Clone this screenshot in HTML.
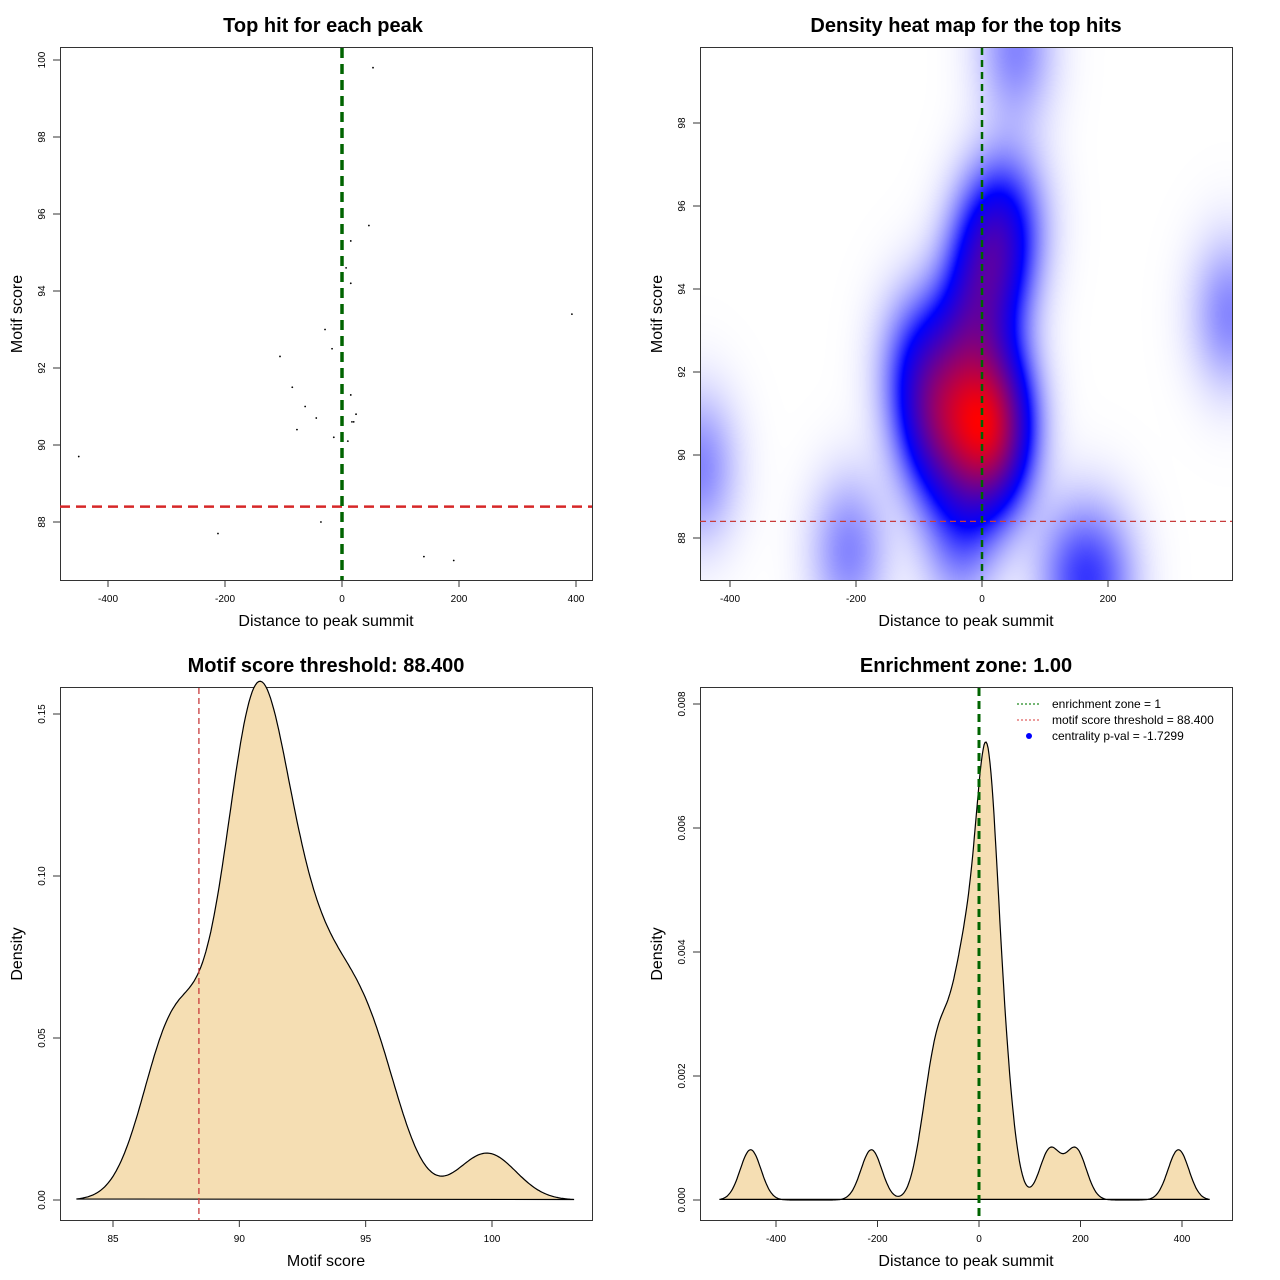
<!DOCTYPE html>
<html><head><meta charset="utf-8"><style>
body{margin:0;background:#fff;width:1280px;height:1280px;overflow:hidden;font-family:"Liberation Sans",sans-serif}
#wrap{position:relative;width:1280px;height:1280px}
canvas{position:absolute}
svg{position:absolute;left:0;top:0}
</style></head><body>
<div id="wrap">
<canvas id="heat" width="532" height="533" style="left:700px;top:47px"></canvas>
<svg id="s" width="1280" height="1280"></svg>
</div>
<script>
// Data: peak hits (distance to summit, motif score)
const distances = [53,46,15,7,15,393,-29,-17,-106,-85,15,-63,24,-44,17,20,-77,-14,10,-450,-36,-212,140,191];
const scores = [99.8,95.7,95.3,94.6,94.2,93.4,93.0,92.5,92.3,91.5,91.3,91.0,90.8,90.7,90.6,90.6,90.4,90.2,90.1,89.7,88.0,87.7,87.1,87.0];
const threshold = 88.4;
const zone = 0;
const xTicks1 = [-400,-200,0,200,400];
const yTicks1 = [88,90,92,94,96,98,100];
const xTicks2 = [-400,-200,0,200];
const yTicks2 = [88,90,92,94,96,98];
const xTicks3 = [85,90,95,100];
const yTicks3 = [0,0.05,0.10,0.15];
const yTickLabels3 = ["0.00","0.05","0.10","0.15"];
const xTicks4 = [-400,-200,0,200,400];
const yTicks4 = [0,0.002,0.004,0.006,0.008];
const yTickLabels4 = ["0.000","0.002","0.004","0.006","0.008"];

const NS="http://www.w3.org/2000/svg", svg=document.getElementById('s');
function el(tag,attrs,text){const e=document.createElementNS(NS,tag);for(const k in attrs)e.setAttribute(k,attrs[k]);if(text!==undefined)e.textContent=text;svg.appendChild(e);return e;}
function lin(d0,d1,r0,r1){return v=>r0+(v-d0)*(r1-r0)/(d1-d0);}

function frame(x0,y0,x1,y1,name){const r=el('rect',{x:x0+.5,y:y0+.5,width:x1-x0,height:y1-y0,fill:'none',stroke:'#333','stroke-width':1});}
function xAxis(ticks,sx,yb,labels,name){
  const g=ticks.map(sx);
  const a=el('line',{x1:g[0],x2:g[g.length-1],y1:yb+0.5,y2:yb+0.5,stroke:'#333'});
  ticks.forEach((t,i)=>{const p=sx(t);el('line',{x1:p,x2:p,y1:yb,y2:yb+7,stroke:'#333'});
    const tx=el('text',{x:p,y:yb+22,'font-size':10,'text-anchor':'middle'},labels?labels[i]:String(t));});
}
function yAxis(ticks,sy,xl,labels,name){
  const g=ticks.map(sy);
  const a=el('line',{x1:xl+0.5,x2:xl+0.5,y1:g[0],y2:g[g.length-1],stroke:'#333'});
  ticks.forEach((t,i)=>{const p=sy(t);el('line',{x1:xl-7,x2:xl,y1:p,y2:p,stroke:'#333'});
    const tx=el('text',{x:0,y:0,'font-size':10,'text-anchor':'middle',transform:`translate(${xl-15},${p}) rotate(-90)`},labels?labels[i]:String(t));});
}
function title(x,y,t,name){const e=el('text',{x,y,'font-size':20,'font-weight':'bold','text-anchor':'middle'},t);}
function xlab(x,y,t,name){const e=el('text',{x,y,'font-size':16,'text-anchor':'middle'},t);}
function ylab(x,y,t,name){const e=el('text',{x:0,y:0,'font-size':16,'text-anchor':'middle',transform:`translate(${x},${y}) rotate(-90)`},t);}
function gauss(u){return Math.exp(-0.5*u*u)/Math.sqrt(2*Math.PI);}
function kde(data,bw,x){let s=0;for(const d of data)s+=gauss((x-d)/bw);return s/(data.length*bw);}

// Panel 1 scatter
const sx1=lin(0,400,342,576), sy1=lin(88,100,522,60);
title(323,32,'Top hit for each peak','title-top-hit');
frame(60,47,592,580,'plot-frame-1');
xAxis(xTicks1,sx1,580,null,'x-axis-1');yAxis(yTicks1,sy1,60,null,'y-axis-1');
xlab(326,626,'Distance to peak summit','x-axis-title-1');ylab(22,314,'Motif score','y-axis-title-1');
distances.forEach((d,i)=>{const c=el('circle',{cx:sx1(d),cy:sy1(scores[i]),r:0.9,fill:'#000'});});
let l=el('line',{x1:60,x2:592,y1:sy1(threshold),y2:sy1(threshold),stroke:'#d62728','stroke-width':2.5,'stroke-dasharray':'10 6'});
l=el('line',{x1:sx1(zone),x2:sx1(zone),y1:48,y2:580,stroke:'#006400','stroke-width':3.5,'stroke-dasharray':'10 6'});

// Panel 2 heatmap
const sx2=lin(0,200,982,1108), sy2=lin(88,98,538,123);
(function(){
  const cv=document.getElementById('heat'),ctx=cv.getContext('2d'),W=532,H=533;
  const img=ctx.createImageData(W,H);const bx=42,by=1.25;const vals=new Float32Array(W*H);let mx=0;
  for(let j=0;j<H;j++){const yv=88+(538-(47+j))*10/415;
    for(let i=0;i<W;i++){const xv=(700+i-982)*200/126;let s=0;
      for(let k=0;k<distances.length;k++){const u=(xv-distances[k])/bx,v=(yv-scores[k])/by;s+=Math.exp(-0.5*(u*u+v*v));}
      vals[j*W+i]=s;if(s>mx)mx=s;}}
  for(let p=0;p<W*H;p++){const t=vals[p]/mx;let r,g,b;
    if(t<0.3){const f=t/0.3;r=255*(1-f);g=255*(1-f);b=255;}else{const f=(t-0.3)/0.7;r=255*f;g=0;b=255*(1-f);}
    img.data[p*4]=r;img.data[p*4+1]=g;img.data[p*4+2]=b;img.data[p*4+3]=255;}
  ctx.putImageData(img,0,0);
})();
title(966,32,'Density heat map for the top hits','title-heatmap');
frame(700,47,1232,580,'plot-frame-2');
xAxis(xTicks2,sx2,580,null,'x-axis-2');yAxis(yTicks2,sy2,700,null,'y-axis-2');
xlab(966,626,'Distance to peak summit','x-axis-title-2');ylab(662,314,'Motif score','y-axis-title-2');
l=el('line',{x1:700,x2:1232,y1:sy2(threshold),y2:sy2(threshold),stroke:'#c83c3c','stroke-width':1.3,'stroke-dasharray':'6 4'});
l=el('line',{x1:sx2(zone),x2:sx2(zone),y1:48,y2:580,stroke:'#006400','stroke-width':2.5,'stroke-dasharray':'7 5'});

// Panel 3 score density
const sx3=lin(85,100,113,492), sy3=lin(0,0.15,1200,714);
title(326,672,'Motif score threshold: 88.400','title-threshold');
frame(60,687,592,1220,'plot-frame-3');
xAxis(xTicks3,sx3,1220,null,'x-axis-3');yAxis(yTicks3,sy3,60,yTickLabels3,'y-axis-3');
xlab(326,1266,'Motif score','x-axis-title-3');ylab(22,954,'Density','y-axis-title-3');
(function(){const bw=1.15,lo=Math.min(...scores)-3*bw,hi=Math.max(...scores)+3*bw;let d='';
  for(let k=0;k<=300;k++){const x=lo+(hi-lo)*k/300;d+=(k?'L':'M')+sx3(x).toFixed(1)+','+sy3(kde(scores,bw,x)).toFixed(1);}
  d+='Z';const p=el('path',{d,fill:'#f5deb3',stroke:'#000','stroke-width':1.2});})();
l=el('line',{x1:sx3(threshold),x2:sx3(threshold),y1:688,y2:1220,stroke:'#c83c3c','stroke-width':1.3,'stroke-dasharray':'6 4'});

// Panel 4 distance density
const sx4=lin(0,400,979,1182), sy4=lin(0,0.008,1200,704);
title(966,672,'Enrichment zone: 1.00','title-enrichment');
frame(700,687,1232,1220,'plot-frame-4');
xAxis(xTicks4,sx4,1220,null,'x-axis-4');yAxis(yTicks4,sy4,700,yTickLabels4,'y-axis-4');
xlab(966,1266,'Distance to peak summit','x-axis-title-4');ylab(662,954,'Density','y-axis-title-4');
(function(){const bw=20.5,lo=Math.min(...distances)-3*bw,hi=Math.max(...distances)+3*bw;let d='';
  for(let k=0;k<=500;k++){const x=lo+(hi-lo)*k/500;d+=(k?'L':'M')+sx4(x).toFixed(1)+','+sy4(kde(distances,bw,x)).toFixed(1);}
  d+='Z';const p=el('path',{d,fill:'#f5deb3',stroke:'#000','stroke-width':1.2});})();
l=el('line',{x1:sx4(zone),x2:sx4(zone),y1:688,y2:1220,stroke:'#006400','stroke-width':3,'stroke-dasharray':'8 5'});
// legend
const lg=[['#228b22','enrichment zone = 1','line'],['#e06060','motif score threshold = 88.400','line'],['#0000ff','centrality p-val = -1.7299','dot']];
lg.forEach((e,i)=>{const y=704+i*16;
  if(e[2]==='line'){const m=el('line',{x1:1017,x2:1041,y1:y,y2:y,stroke:e[0],'stroke-width':1.2,'stroke-dasharray':'2 2'});}
  else{const m=el('circle',{cx:1029,cy:y,r:3,fill:e[0]});}
  const t=el('text',{x:1052,y:y+4,'font-size':12},e[1]);});
</script>
</body></html>
